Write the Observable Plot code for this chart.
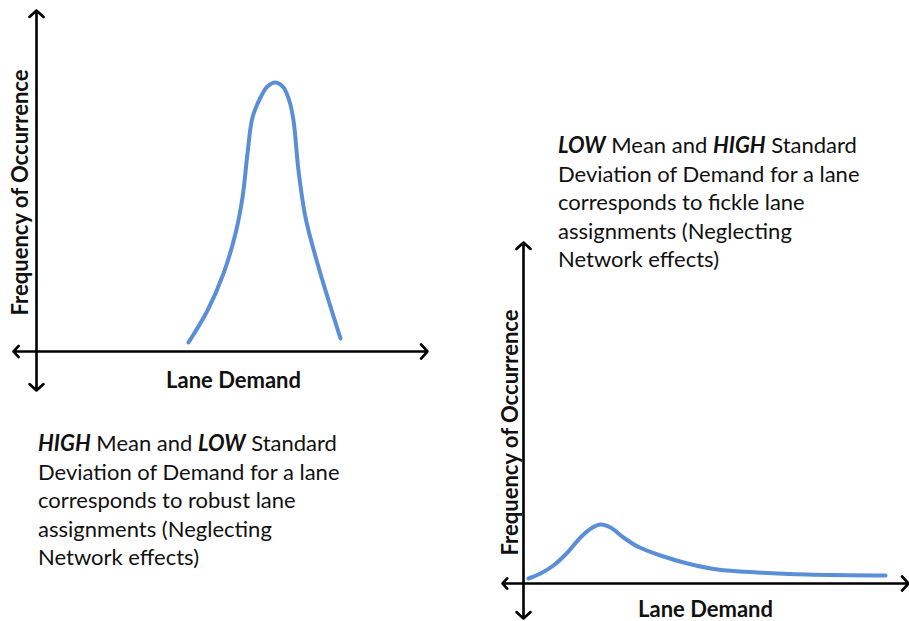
<!DOCTYPE html>
<html>
<head>
<meta charset="utf-8">
<script src="https://cdn.jsdelivr.net/npm/d3@7"></script>
<script src="https://cdn.jsdelivr.net/npm/@observablehq/plot@0.6"></script>
<style>
  html, body { margin: 0; padding: 0; background: #fff; }
  #wrap { position: relative; width: 909px; height: 621px; overflow: hidden; font-family: Lato, "Open Sans", sans-serif; }
  #wrap > svg, #wrap > .note { position: absolute; }
  .note { font-size: 22px; line-height: 28.5px; color: #111; white-space: nowrap; }
  .note b { font-style: italic; }
</style>
</head>
<body>
<div id="wrap"></div>
<script>
// ---- Data (local units: demand along x, frequency along y, origin at the axes' crossing) ----
// Panel A: HIGH mean, LOW standard deviation
const demandA = [152, 171, 187, 199, 206, 211, 216, 224, 231, 239, 247, 253, 257, 262, 269, 281, 293, 304];
const freqA   = [9, 41, 78, 118, 154, 198, 234, 254, 265, 269, 264, 250, 231, 181, 134, 88, 48, 13];
// Panel B: LOW mean, HIGH standard deviation
const demandB = [5, 17, 30, 44, 57, 69, 77, 87, 100, 114, 137, 164, 194, 234, 284, 362];
const freqB   = [5, 10, 18, 31, 46, 56, 59, 56, 46, 37, 28, 20, 14, 11, 9, 8];
// Axis extents (arrow tips) per panel: [xMin, xMax, yMin, yMax]
const axesA = [-23, 391, -39, 341];
const axesB = [-21, 385, -35, 341];
// Labels
const xLabel = "Lane Demand";
const yLabel = "Frequency of Occurrence";
const noteA = ["<b>HIGH</b> Mean and <b>LOW</b> Standard", "Deviation of Demand for a lane", "corresponds to robust lane", "assignments (Neglecting", "Network effects)"];
const noteB = ["<b>LOW</b> Mean and <b>HIGH</b> Standard", "Deviation of Demand for a lane", "corresponds to fickle lane", "assignments (Neglecting", "Network effects)"];

const BLUE = "#5a8fd8";

function panel(demand, freq, axes, opt) {
  const [x0, x1, y0, y1] = axes;
  const arrows = [
    {x1: 0, y1: 0, x2: x0, y2: 0},
    {x1: 0, y1: 0, x2: x1, y2: 0},
    {x1: 0, y1: 0, x2: 0, y2: y0},
    {x1: 0, y1: 0, x2: 0, y2: y1}
  ];
  const pts = demand.map((d, i) => ({d, f: freq[i]}));
  const svg = Plot.plot({
    width: opt.width, height: opt.height,
    margin: 0,
    x: {domain: opt.xDomain, axis: null},
    y: {domain: opt.yDomain, axis: null},
    marks: [
      Plot.arrow(arrows, {x1: "x1", y1: "y1", x2: "x2", y2: "y2", stroke: "#000", strokeWidth: 2.6, headLength: 5.5, headAngle: 95}),
      Plot.line(pts, {x: "d", y: "f", stroke: BLUE, strokeWidth: 4, curve: "catmull-rom"}),
      Plot.text([xLabel], {x: opt.xLabelAt[0], y: opt.xLabelAt[1], text: d => d, fontSize: 22, fontWeight: "bold", fontFamily: "Lato", fill: "#111"}),
      Plot.text([yLabel], {x: opt.yLabelAt[0], y: opt.yLabelAt[1], text: d => d, rotate: -90, fontSize: 22, fontWeight: "bold", fontFamily: "Lato", fill: "#111"})
    ]
  });
  svg.style.left = opt.left + "px";
  svg.style.top = opt.top + "px";
  svg.style.overflow = "visible";
  return svg;
}

const wrap = document.getElementById("wrap");
wrap.appendChild(panel(demandA, freqA, axesA, {
  left: 0, top: 0, width: 440, height: 400,
  xDomain: [-36, 404], yDomain: [-49, 351],
  xLabelAt: [197, -29], yLabelAt: [-16, 159]
}));
wrap.appendChild(panel(demandB, freqB, axesB, {
  left: 490, top: 225, width: 419, height: 396,
  xDomain: [-33, 386], yDomain: [-38, 358],
  xLabelAt: [182, -26.5], yLabelAt: [-13, 151]
}));

function note(lines, left, top) {
  const div = document.createElement("div");
  div.className = "note";
  div.innerHTML = lines.join("<br>");
  div.style.left = left + "px";
  div.style.top = top + "px";
  wrap.appendChild(div);
}
note(noteA, 38, 429);
note(noteB, 558, 131);
</script>
</body>
</html>
